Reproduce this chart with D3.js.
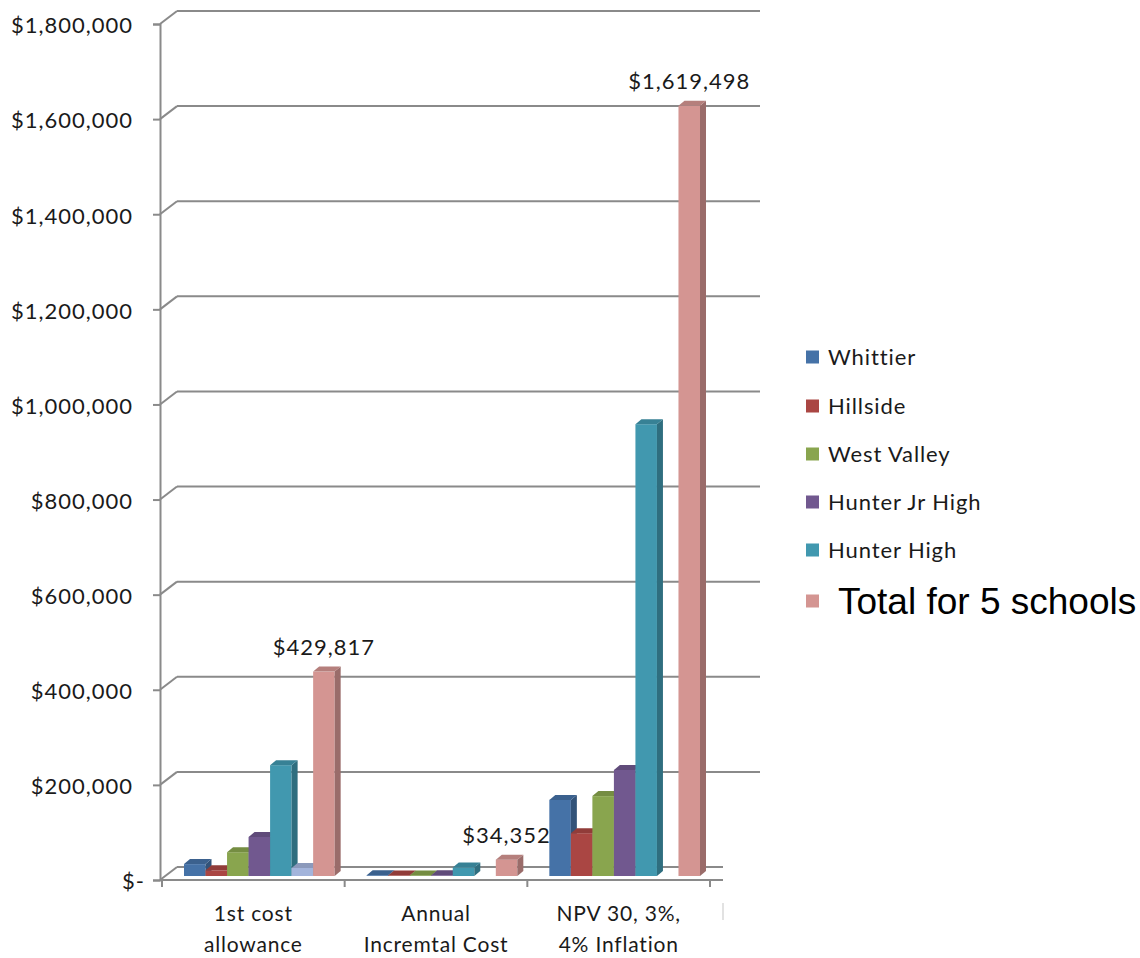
<!DOCTYPE html>
<html>
<head>
<meta charset="utf-8">
<script src="https://cdn.jsdelivr.net/npm/d3@7"></script>
<style>
  body { margin: 0; background: #fff; }
  svg text { font-family: Lato, "Noto Sans", sans-serif; fill: #1a1a1a; }
</style>
</head>
<body>
<div id="chart"></div>
<script>
// categories and series
var categories = ["1st cost allowance", "Annual Incremtal Cost", "NPV 30, 3%, 4% Inflation"];
var categoryLines = [["1st cost", "allowance"], ["Annual", "Incremtal Cost"], ["NPV 30, 3%,", "4% Inflation"]];
var seriesNames = ["Whittier", "Hillside", "West Valley", "Hunter Jr High", "Hunter High", "", "Total for 5 schools"];

var whittier     = [25000, 1500, 160000];
var hillside     = [12000, 1000, 90000];
var westValley   = [50000, 1200, 168000];
var hunterJrHigh = [82000, 1500, 223000];
var hunterHigh   = [233000, 18000, 950000];
var unnamed      = [17000, 0, 0];       // light blue bar with no legend entry
var totalFive    = [429817, 34352, 1619498];

var yTicks = [0, 200000, 400000, 600000, 800000, 1000000, 1200000, 1400000, 1600000, 1800000];

var colors = ["#4572a7", "#aa4643", "#89a54e", "#71588f", "#4198af", "#a3b4db", "#d49592"];
var seriesValues = [whittier, hillside, westValley, hunterJrHigh, hunterHigh, unnamed, totalFive];

var width = 1140, height = 958;
var wallDx = 17, wallDy = -13;     // depth of the back wall
var barOx = 6, barOy = -4;          // bar front plane offset
var barDx = 6, barDy = -5;          // bar depth

var svg = d3.select("#chart").append("svg")
  .attr("width", width).attr("height", height);

var y = d3.scaleLinear().domain([0, 1800000]).range([880, 24]);
var x = d3.scaleBand().domain(categories).range([162, 710]);
var xs = d3.scaleBand().domain(d3.range(seriesNames.length))
  .range([16, x.bandwidth() - 16]);

var grid = "#8a8a8a";

// back wall gridlines + the little diagonals to the axis
yTicks.forEach(function(t){
  var yy = y(t);
  svg.append("line")
    .attr("x1", 160 + wallDx).attr("x2", t === 0 ? 723 : 760)
    .attr("y1", yy + wallDy).attr("y2", yy + wallDy)
    .style("stroke", grid).style("stroke-width", 2);
  svg.append("line")
    .attr("x1", 160).attr("y1", yy)
    .attr("x2", 160 + wallDx).attr("y2", yy + wallDy)
    .style("stroke", grid).style("stroke-width", 2);
});

// floor front edge
svg.append("line")
  .attr("x1", 160).attr("x2", 723).attr("y1", y(0)).attr("y2", y(0))
  .style("stroke", grid).style("stroke-width", 2);

// value axis
var fmt = d3.format(",");
var yAxis = svg.append("g")
  .attr("transform", "translate(160,0)")
  .call(d3.axisLeft(y).tickValues(yTicks).tickSizeOuter(0).tickSize(7).tickPadding(20)
    .tickFormat(function(d){ return d === 0 ? "$-" : "$" + fmt(d); }));
yAxis.select(".domain").style("stroke", grid).style("stroke-width", 2);
yAxis.selectAll(".tick line").style("stroke", grid).style("stroke-width", 2);
yAxis.selectAll(".tick text")
  .style("font-family", "Lato, sans-serif").style("font-size", "22px").style("fill", "#1a1a1a")
  .style("letter-spacing", "1px")
  .attr("dy", "0.4em")
  .attr("dx", function(d){ return d === 0 ? 12 : 0; });

// category ticks
var bounds = categories.map(function(c){ return x(c); }).concat([x.range()[1]]);
bounds.forEach(function(b){
  svg.append("line")
    .attr("x1", b).attr("x2", b).attr("y1", y(0)).attr("y2", y(0) + 7)
    .style("stroke", grid).style("stroke-width", 2);
});
svg.append("line")
  .attr("x1", 723).attr("x2", 723).attr("y1", 903).attr("y2", 920)
  .style("stroke", "#d8d8d8").style("stroke-width", 1.5);

// category labels
categories.forEach(function(c, i){
  var t = svg.append("text")
    .attr("text-anchor", "middle")
    .style("font-size", "21px")
    .style("letter-spacing", "0.8px");
  categoryLines[i].forEach(function(line, k){
    t.append("tspan")
      .attr("x", x(c) + x.bandwidth() / 2)
      .attr("y", 921 + k * 31)
      .text(line);
  });
});

// 3D bars
function shade(c, k){ return d3.rgb(c).darker(k).toString(); }

var bars = [];
seriesValues.forEach(function(vals, s){
  vals.forEach(function(v, i){
    if (v > 0) bars.push({s: s, i: i, v: v});
  });
});

var barG = svg.append("g");
bars.forEach(function(d){
  var x0 = x(categories[d.i]) + xs(d.s) + barOx;
  var w = xs.bandwidth();
  var y0 = y(0) + barOy;
  var y1 = y(d.v) + barOy;
  var c = colors[d.s];
  var g = barG.append("g");
  g.append("rect")
    .attr("x", x0).attr("y", y1)
    .attr("width", w).attr("height", Math.max(0, y0 - y1))
    .style("fill", c);
  g.append("path")
    .attr("d", "M" + (x0 + w) + "," + y1 + "L" + (x0 + w + barDx) + "," + (y1 + barDy) +
      "L" + (x0 + w + barDx) + "," + (y0 + barDy) + "L" + (x0 + w) + "," + y0 + "Z")
    .style("fill", shade(c, 0.9));
  g.append("path")
    .attr("d", "M" + x0 + "," + y1 + "L" + (x0 + barDx) + "," + (y1 + barDy) +
      "L" + (x0 + w + barDx) + "," + (y1 + barDy) + "L" + (x0 + w) + "," + y1 + "Z")
    .style("fill", shade(c, 0.45));
});

// labels on the totals
var totalIdx = seriesNames.length - 1;
totalFive.forEach(function(v, i){
  var cx = x(categories[i]) + xs(totalIdx) + barOx + xs.bandwidth() / 2;
  svg.append("text")
    .attr("x", cx).attr("y", y(v) + barOy + barDy - 12)
    .attr("text-anchor", "middle")
    .style("font-size", "22px")
    .style("letter-spacing", "1px")
    .text("$" + fmt(v));
});

// legend
var legendY = [357, 406, 454, 502, 550, 601];
var legendItems = seriesNames.map(function(n, s){ return {name: n, s: s}; })
  .filter(function(d){ return d.name !== ""; });
legendItems.forEach(function(d, k){
  var big = d.s === totalIdx;
  svg.append("rect")
    .attr("x", 806).attr("y", legendY[k] - 6.5)
    .attr("width", 13).attr("height", 13)
    .style("fill", colors[d.s]);
  svg.append("text")
    .attr("x", big ? 838 : 828).attr("y", legendY[k])
    .attr("dy", "0.36em")
    .style("font-family", big ? "'Liberation Sans', Arial, sans-serif" : "Lato, sans-serif")
    .style("font-size", big ? "37px" : "22px")
    .style("letter-spacing", big ? "0px" : "0.9px")
    .style("fill", big ? "#000" : "#1a1a1a")
    .text(d.name);
});
</script>
</body>
</html>
